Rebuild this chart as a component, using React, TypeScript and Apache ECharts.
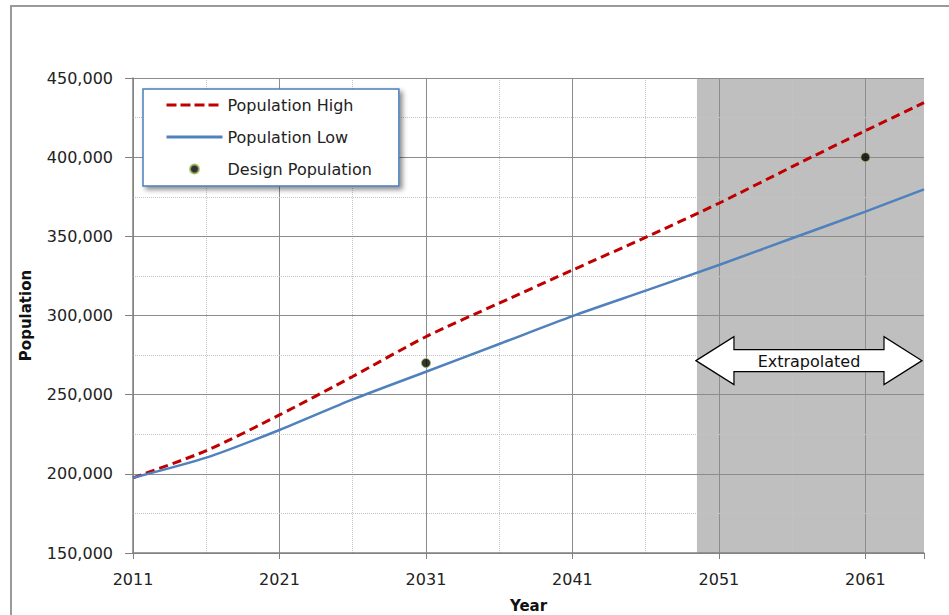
import React, { useEffect, useRef } from "react";
import * as echarts from "echarts";

// ---- data ----
const baseYear = 2011;
const years = [2011, 2016, 2021, 2026, 2031, 2036, 2041, 2046, 2051, 2056, 2061, 2065];
const popHigh = [197500, 214600, 237200, 261500, 286600, 307800, 328700, 349400, 370900, 394000, 416700, 434400];
const popLow = [197500, 210200, 227700, 247000, 264500, 282000, 299600, 315700, 331900, 348800, 365600, 379700];
const designYears = [2031, 2061];
const designPop = [270000, 400000];
const majorYears = [2011, 2021, 2031, 2041, 2051, 2061];
const minorYears = [2016, 2026, 2036, 2046, 2056];
const yearMax = 2065;
const popMin = 150000;
const popMax = 450000;
const popStep = 50000;
const extrapStart = 2049.5;
const extrapEnd = 2065;
const extrapArrowPop = 271500;
const seriesNames = ["Population High", "Population Low", "Design Population"];

const FONT = "DejaVu Sans";
const RED = "#c00000";
const BLUE = "#4f81bd";

export default function App() {
  const ref = useRef<HTMLDivElement>(null);

  useEffect(() => {
    if (!ref.current) return;
    const chart = echarts.init(ref.current, undefined, { renderer: "svg" });
    const off = (y: number) => y - baseYear;
    const hidden = { color: "rgba(0,0,0,0)", borderWidth: 0, opacity: 0 };

    const option: any = {
      animation: false,
      backgroundColor: "#ffffff",
      grid: { left: 133, right: 25, top: 78, bottom: 62, containLabel: false, outerBoundsMode: "none" },
      legend: {
        orient: "vertical",
        left: 143,
        top: 89,
        data: [
          { name: seriesNames[0], itemStyle: hidden, lineStyle: { color: RED, width: 3, type: [10, 4] } },
          { name: seriesNames[1], itemStyle: hidden, lineStyle: { color: BLUE, width: 3, type: "solid" } },
          { name: seriesNames[2] },
        ],
        itemWidth: 56,
        itemHeight: 9,
        itemGap: 16,
        padding: [8, 27, 9, 22],
        backgroundColor: "#ffffff",
        borderColor: "#4a7ebb",
        borderWidth: 1.5,
        shadowColor: "rgba(0,0,0,0.45)",
        shadowBlur: 5,
        shadowOffsetX: 3,
        shadowOffsetY: 3,
        selectedMode: false,
        textStyle: { fontFamily: FONT, fontSize: 16, color: "#222" },
      },
      xAxis: {
        type: "value",
        min: 0,
        max: off(yearMax),
        interval: 10,
        name: "Year",
        nameLocation: "middle",
        nameGap: 45,
        nameTextStyle: { fontFamily: FONT, fontSize: 15, fontWeight: "bold", color: "#111" },
        axisLine: { show: true, lineStyle: { color: "#808080", width: 1.5 } },
        axisTick: { show: true, length: 6, lineStyle: { color: "#808080" } },
        axisLabel: {
          fontFamily: FONT,
          fontSize: 16,
          color: "#222",
          margin: 18,
          formatter: (v: number) => (majorYears.indexOf(v + baseYear) >= 0 ? String(v + baseYear) : ""),
        },
        splitLine: { show: false },
      },
      yAxis: {
        type: "value",
        min: popMin,
        max: popMax,
        interval: popStep,
        name: "Population",
        nameLocation: "middle",
        nameGap: 100,
        nameRotate: 90,
        nameTextStyle: { fontFamily: FONT, fontSize: 15, fontWeight: "bold", color: "#111" },
        axisLine: { show: true, lineStyle: { color: "#808080", width: 1.5 } },
        axisTick: { show: true, length: 8, lineStyle: { color: "#808080" } },
        axisLabel: {
          fontFamily: FONT,
          fontSize: 16,
          color: "#222",
          margin: 20,
          formatter: (v: number) => v.toLocaleString("en-US"),
        },
        splitLine: { show: true, lineStyle: { color: "#8c8c8c", width: 1 } },
        minorTick: { show: false, splitNumber: 2 },
        minorSplitLine: { show: true, lineStyle: { color: "#c4c4c4", width: 1, type: "dotted" } },
      },
      series: [
        {
          name: "_shade",
          type: "line",
          data: [],
          silent: true,
          z: -2,
          markArea: {
            silent: true,
            z: -2,
            itemStyle: { color: "#bfbfbf" },
            data: [[{ xAxis: off(extrapStart), yAxis: popMin }, { xAxis: off(extrapEnd), yAxis: popMax }]],
          },
          markLine: {
            silent: true,
            z: -1,
            symbol: ["none", "none"],
            label: { show: false },
            data: [
              ...majorYears.map((y) => ({ xAxis: off(y), lineStyle: { color: "#8c8c8c", width: 1, type: "solid" } })),
              ...minorYears.map((y) => ({ xAxis: off(y), lineStyle: { color: "#c4c4c4", width: 1, type: "dotted" } })),
            ],
          },
        },
        {
          name: seriesNames[0],
          type: "line",
          symbol: "none",
          smooth: 0.25,
          z: 3,
          itemStyle: { color: RED },
          lineStyle: { color: RED, width: 3, type: [9, 5] },
          data: years.map((y, i) => [off(y), popHigh[i]]),
        },
        {
          name: seriesNames[1],
          type: "line",
          symbol: "none",
          smooth: 0.25,
          z: 3,
          itemStyle: { color: BLUE },
          lineStyle: { color: BLUE, width: 2.5 },
          data: years.map((y, i) => [off(y), popLow[i]]),
        },
        {
          name: seriesNames[2],
          type: "scatter",
          symbol: "circle",
          symbolSize: 9,
          z: 4,
          itemStyle: { color: "#000000", borderColor: "#9bbb59", borderWidth: 1 },
          data: designYears.map((y, i) => [off(y), designPop[i]]),
        },
      ],
    };
    chart.setOption(option);

    const p0 = chart.convertToPixel({ gridIndex: 0 } as any, [off(extrapStart), extrapArrowPop]) as number[];
    const p1 = chart.convertToPixel({ gridIndex: 0 } as any, [off(extrapEnd), extrapArrowPop]) as number[];
    const x0 = p0[0] - 1;
    const x1 = p1[0] - 2;
    const cy = p0[1];
    const hl = 38;
    const sh = 11;
    const hh = 24;
    const pts = [
      [x0, cy],
      [x0 + hl, cy - hh],
      [x0 + hl, cy - sh],
      [x1 - hl, cy - sh],
      [x1 - hl, cy - hh],
      [x1, cy],
      [x1 - hl, cy + hh],
      [x1 - hl, cy + sh],
      [x0 + hl, cy + sh],
      [x0 + hl, cy + hh],
    ];

    chart.setOption({
      graphic: [
        {
          type: "rect",
          silent: true,
          z: 100,
          shape: { x: 11, y: 6, width: 980, height: 660 },
          style: { fill: "none", stroke: "#9a9a9a", lineWidth: 2 },
        },
        {
          type: "polygon",
          silent: true,
          z: 50,
          shape: { points: pts },
          style: { fill: "#ffffff", stroke: "#000000", lineWidth: 1.2 },
        },
        {
          type: "text",
          silent: true,
          z: 51,
          x: (x0 + x1) / 2,
          y: cy + 1,
          style: {
            text: "Extrapolated",
            fontFamily: FONT,
            fontSize: 16,
            fill: "#111",
            align: "center",
            verticalAlign: "middle",
          },
        },
      ],
    });

    return () => chart.dispose();
  }, []);

  return <div ref={ref} style={{ position: "fixed", left: 0, top: 0, width: 949, height: 615 }} />;
}
